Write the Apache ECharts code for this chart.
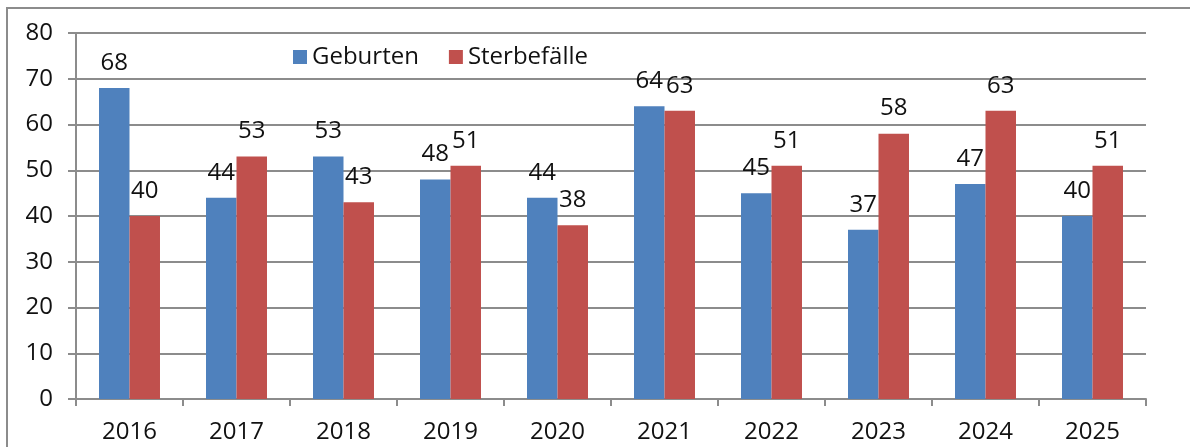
<!DOCTYPE html>
<html>
<head>
<meta charset="utf-8">
<script src="https://cdn.jsdelivr.net/npm/echarts@6/dist/echarts.min.js"></script>
<style>
  html, body { margin: 0; padding: 0; background: #fff; }
  #chart { width: 1190px; height: 447px; }
</style>
</head>
<body>
<div id="chart"></div>
<script>
// Daten
var jahre = ['2016', '2017', '2018', '2019', '2020', '2021', '2022', '2023', '2024', '2025'];
var geburten = [68, 44, 53, 48, 44, 64, 45, 37, 47, 40];
var sterbefaelle = [40, 53, 43, 51, 38, 63, 51, 58, 63, 51];

var schrift = '"Open Sans", "Noto Sans", sans-serif';
var grau = '#8c8c8c';

var myChart = echarts.init(document.getElementById('chart'));
var option = {
  animation: false,
  textStyle: { fontFamily: schrift },
  graphic: [{
    type: 'rect',
    shape: { x: 7, y: 8, width: 1200, height: 500 },
    style: { fill: 'none', stroke: grau, lineWidth: 2 },
    silent: true
  }],
  legend: {
    data: ['Geburten', 'Sterbefälle'],
    left: 288,
    top: 40,
    itemWidth: 14,
    itemHeight: 14,
    itemGap: 30,
    icon: 'rect',
    textStyle: { fontSize: 24, color: '#111', fontFamily: schrift }
  },
  grid: { left: 76, right: 44, top: 33, bottom: 48 },
  xAxis: {
    type: 'category',
    data: jahre,
    axisLine: { lineStyle: { color: grau, width: 2 } },
    axisTick: { show: true, length: 7, lineStyle: { color: grau, width: 2 } },
    axisLabel: { fontSize: 24, color: '#111', margin: 21 }
  },
  yAxis: {
    type: 'value',
    min: 0,
    max: 80,
    interval: 10,
    axisLine: { show: true, lineStyle: { color: grau, width: 2 } },
    axisTick: { show: true, length: 8, lineStyle: { color: grau, width: 2 } },
    splitLine: { lineStyle: { color: grau, width: 2 } },
    axisLabel: { fontSize: 24, color: '#111', margin: 23 }
  },
  series: [{
    name: 'Geburten',
    type: 'bar',
    data: geburten,
    barGap: '0%',
    barCategoryGap: '43%',
    itemStyle: { color: '#4F81BD' },
    label: { show: true, position: 'top', distance: 13, fontSize: 24, color: '#111' }
  }, {
    name: 'Sterbefälle',
    type: 'bar',
    data: sterbefaelle,
    itemStyle: { color: '#C0504D' },
    label: { show: true, position: 'top', distance: 13, fontSize: 24, color: '#111' }
  }]
};
myChart.setOption(option);
</script>
</body>
</html>
